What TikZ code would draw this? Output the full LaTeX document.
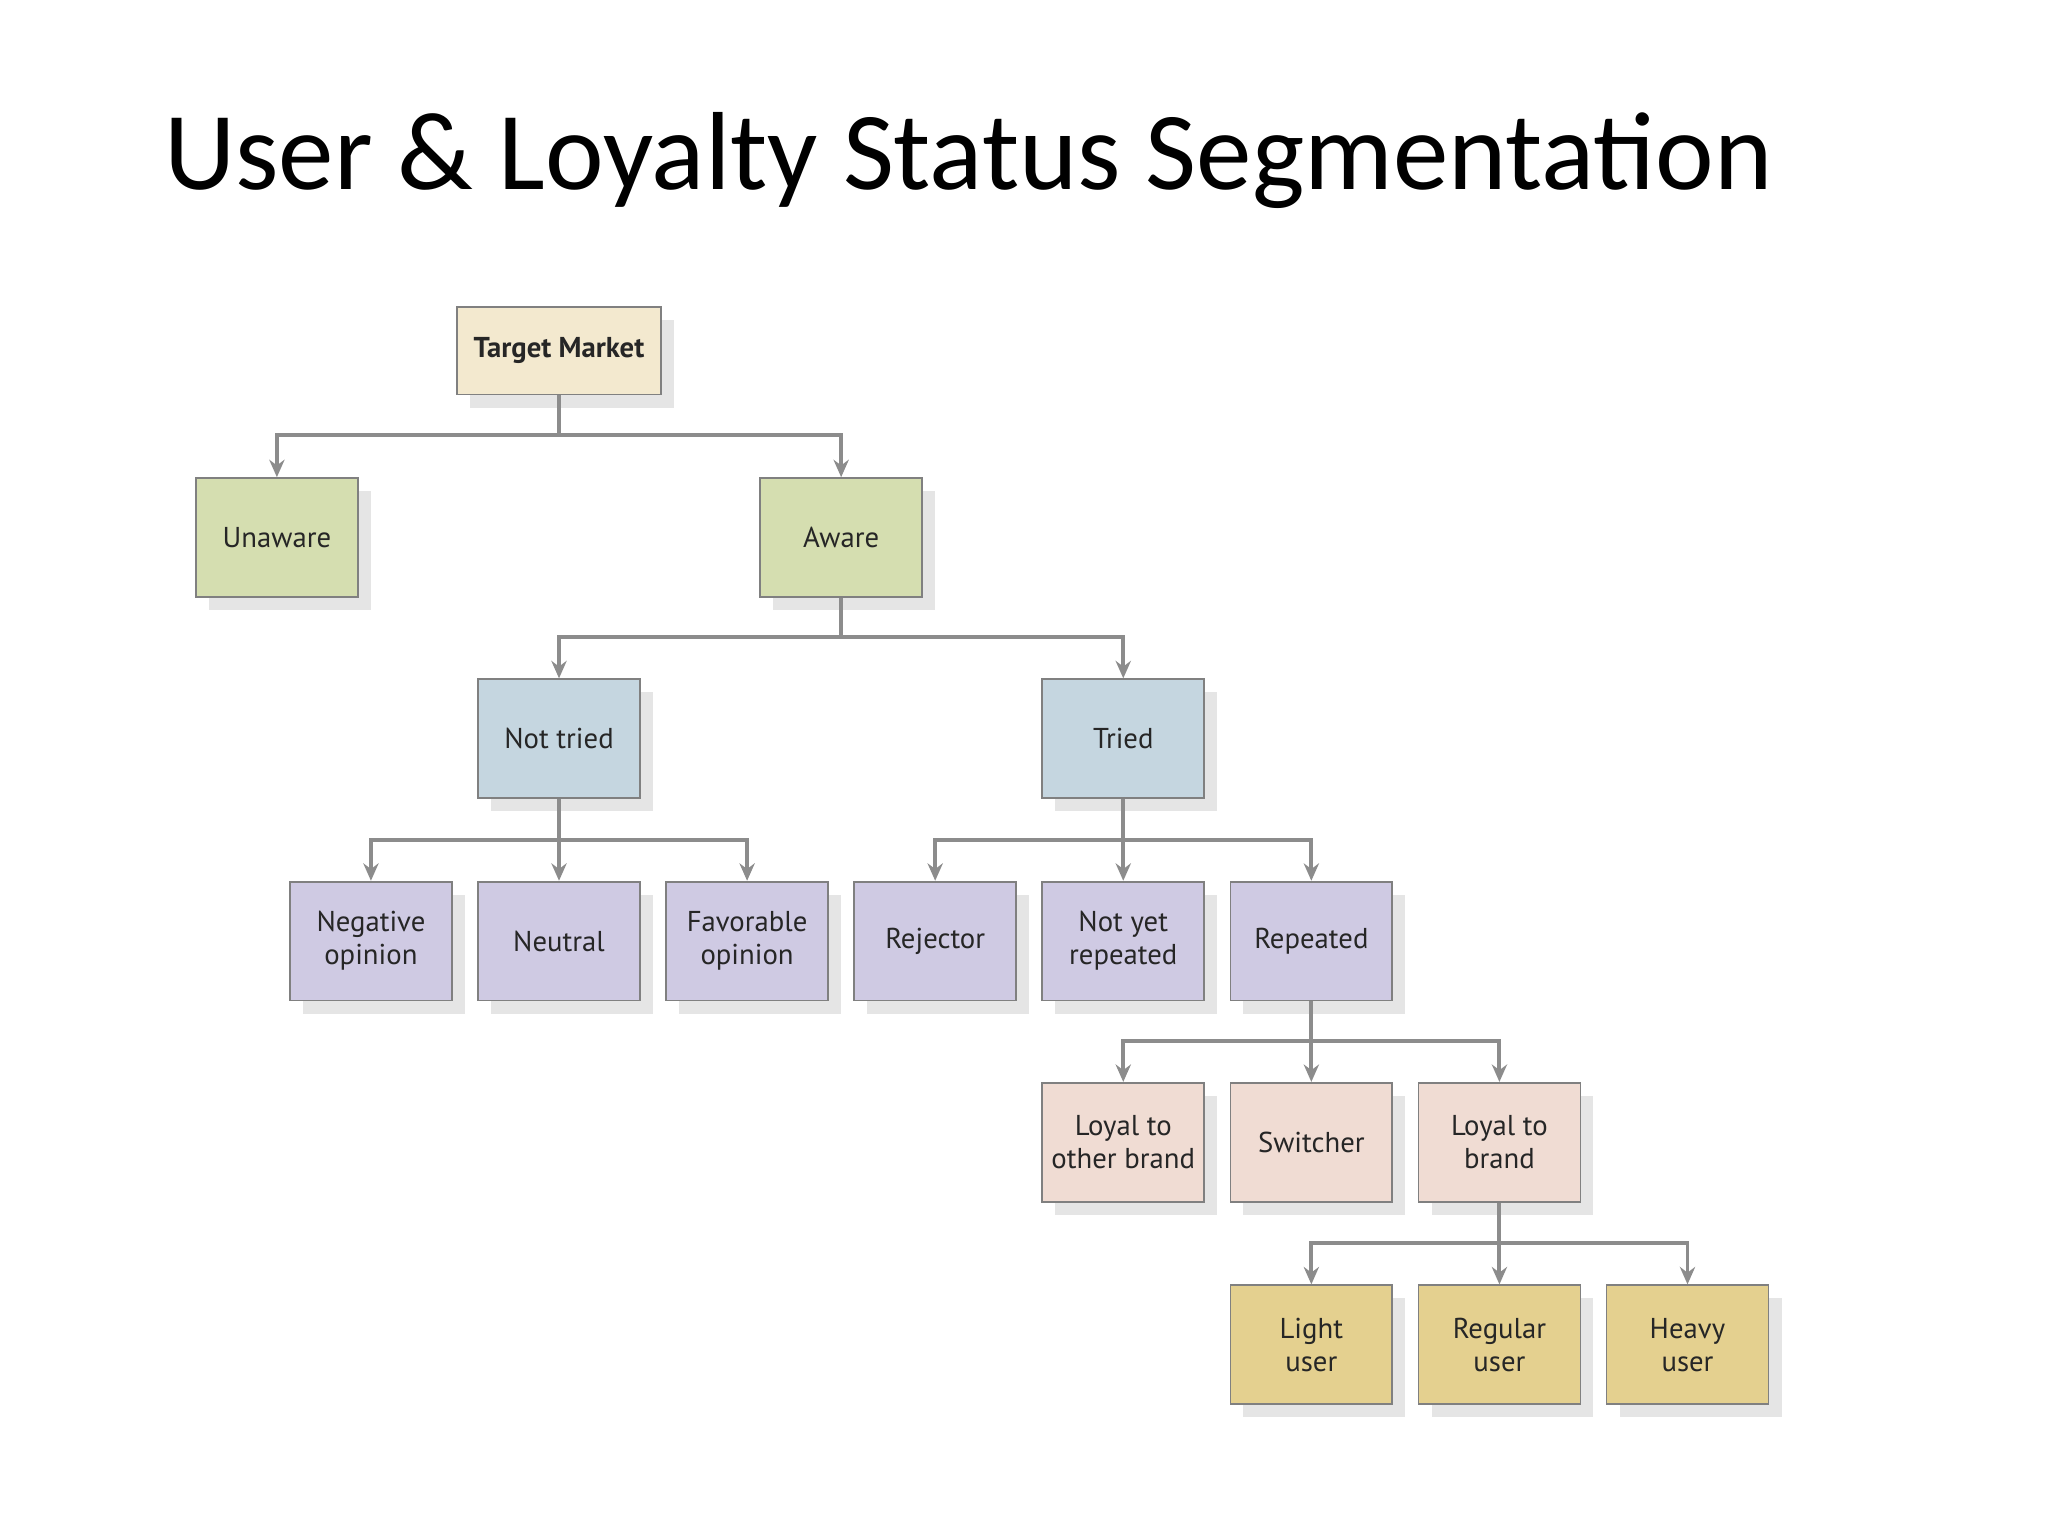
\documentclass[tikz,border=0pt]{standalone}
\usepackage{fontspec}
\setmainfont{Carlito}
\newfontfamily\boxfont{PT Sans}
\usetikzlibrary{shadows,arrows.meta}
\definecolor{cTop}{HTML}{F3E9CF}
\definecolor{cGreen}{HTML}{D5DEB0}
\definecolor{cBlue}{HTML}{C5D6E0}
\definecolor{cPurple}{HTML}{CFCAE3}
\definecolor{cPink}{HTML}{F0DCD3}
\definecolor{cGold}{HTML}{E4D08F}
\definecolor{cLine}{HTML}{8C8C8C}
\tikzset{
 bx/.style={draw=black!50, line width=0.4pt, minimum width=37.2pt, minimum height=27.3pt,
   inner sep=1pt, align=center, font=\boxfont\fontsize{6.6}{7.6}\selectfont, text=black!85,
   drop shadow={shadow xshift=3pt, shadow yshift=-3pt, fill=black!10, opacity=1}},
 conn/.style={draw=cLine, line width=0.9pt, -{Stealth[length=4pt,width=3.5pt]}}
}
\begin{document}
\begin{tikzpicture}[x=0.3pt,y=0.3pt]
\useasboundingbox[fill=white] (0,0) rectangle (1568,-1176);
\node[anchor=base west, inner sep=0, font=\fontsize{25.5}{30}\selectfont] (title) at (125,-145) {User \& Loyalty Status Segmentation};
\node[bx, fill=cTop, minimum width=46.8pt, minimum height=20.1pt, font=\boxfont\bfseries\fontsize{6.6}{7.6}\selectfont] (tm) at (428,-268.5) {Target Market};
\node[bx, fill=cGreen] (un) at (212,-411.5) {Unaware};
\node[bx, fill=cGreen] (aw) at (644,-411.5) {Aware};
\node[bx, fill=cBlue] (nt) at (428,-565.5) {Not tried};
\node[bx, fill=cBlue] (tr) at (860,-565.5) {Tried};
\node[bx, fill=cPurple] (ng) at (284,-720.5) {Negative\\opinion};
\node[bx, fill=cPurple] (nu) at (428,-720.5) {Neutral};
\node[bx, fill=cPurple] (fa) at (572,-720.5) {Favorable\\opinion};
\node[bx, fill=cPurple] (rj) at (716,-720.5) {Rejector};
\node[bx, fill=cPurple] (ny) at (860,-720.5) {Not yet\\repeated};
\node[bx, fill=cPurple] (rp) at (1004,-720.5) {Repeated};
\node[bx, fill=cPink] (lo) at (860,-874.5) {Loyal to\\other brand};
\node[bx, fill=cPink] (sw) at (1004,-874.5) {Switcher};
\node[bx, fill=cPink] (lb) at (1148,-874.5) {Loyal to\\brand};
\node[bx, fill=cGold] (li) at (1004,-1029.5) {Light\\user};
\node[bx, fill=cGold] (re) at (1148,-1029.5) {Regular\\user};
\node[bx, fill=cGold] (he) at (1292,-1029.5) {Heavy\\user};
\foreach \p/\b/\c in {tm/333/un, tm/333/aw, aw/488/nt, aw/488/tr,
  nt/643/ng, nt/643/nu, nt/643/fa, tr/643/rj, tr/643/ny, tr/643/rp,
  rp/797/lo, rp/797/sw, rp/797/lb, lb/952/li, lb/952/re, lb/952/he}
  \draw[conn] (\p.south) -- (\p.south |- 0,-\b) -| (\c.north);
\end{tikzpicture}
\end{document}
